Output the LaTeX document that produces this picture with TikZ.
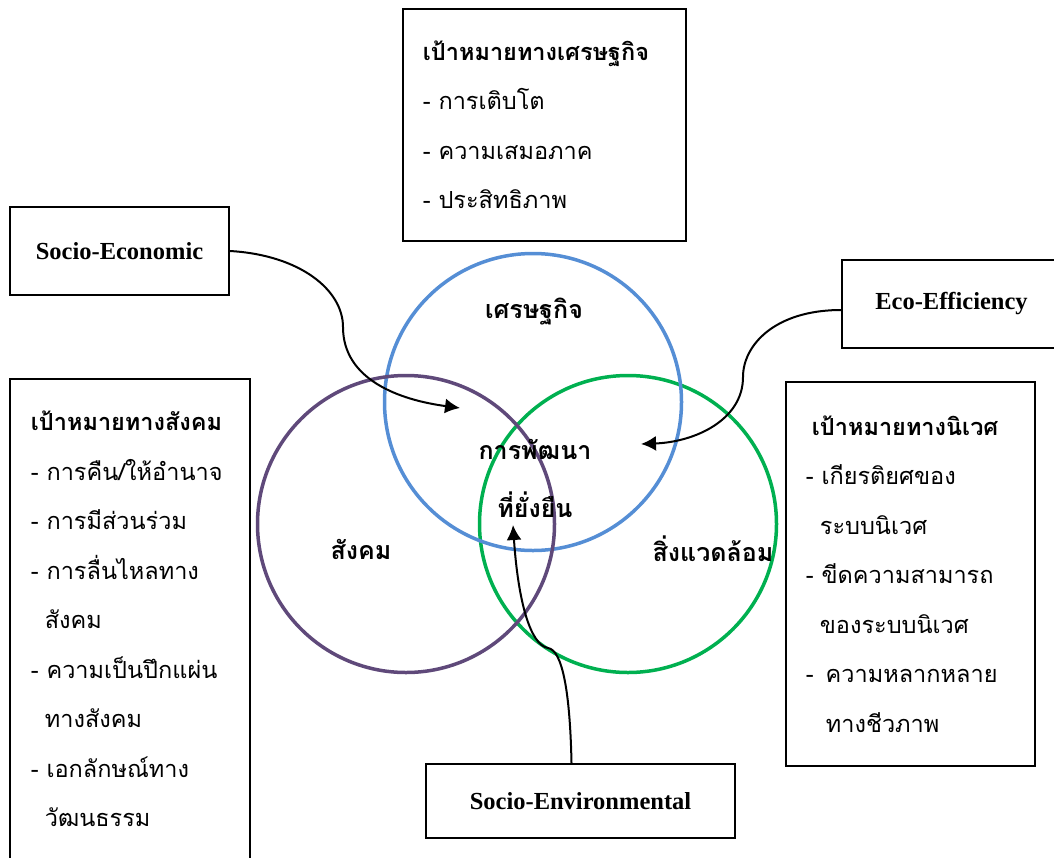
\documentclass[tikz,border=0pt]{standalone}
\usepackage{fontspec}
\setmainfont{Liberation Serif}
\newfontfamily\thaifont[Script=Thai]{Loma}
\usetikzlibrary{arrows.meta}
\definecolor{econblue}{HTML}{558ED5}
\definecolor{socpurple}{HTML}{5F497A}
\definecolor{envgreen}{HTML}{00B050}

\begin{document}
\begin{tikzpicture}[x=1pt,y=-1pt]
  \tikzstyle{pillar}=[circle,line width=3.5pt,minimum size=297pt]
  \tikzstyle{linkbox}=[draw,line width=1.8pt,minimum width=219pt,font=\bfseries\fontsize{24.5}{28}\selectfont]
  \tikzstyle{goalbox}=[draw,line width=1.8pt,align=left,inner xsep=20pt,font=\thaifont\fontsize{23.5}{49.5}\selectfont]
  \tikzstyle{pillar label}=[font=\thaifont\bfseries\fontsize{25}{58}\selectfont]
  \tikzstyle{link}=[line width=2pt,-{Latex[length=15pt,width=15pt]}]
  \useasboundingbox (0,0) rectangle (1054,857);
  \node[pillar,draw=envgreen] (env) at (628,524) {};
  \node[pillar,draw=econblue] (econ) at (533,402) {};
  \node[pillar,draw=socpurple] (social) at (406,524) {};
  \node[pillar label] (econlabel) at (534,312) {เศรษฐกิจ};
  \node[pillar label] (soclabel) at (361,549) {สังคม};
  \node[pillar label] (envlabel) at (713,549) {สิ่งแวดล้อม};
  \node[pillar label,align=center] (sustain) at (535,478) {การพัฒนา\\ที่ยั่งยืน};
  \node[goalbox,anchor=north west,text width=243pt,minimum height=232pt] (econgoal) at (402,8)
    {\textbf{เป้าหมายทางเศรษฐกิจ}\\- การเติบโต\\- ความเสมอภาค\\- ประสิทธิภาพ};
  \node[goalbox,anchor=north west,text width=198pt,minimum height=478pt,draw=none] (socgoal) at (10,379)
    {\textbf{เป้าหมายทางสังคม}\\- การคืน/ให้อำนาจ\\- การมีส่วนร่วม\\- การลื่นไหลทาง\\\hspace*{14pt}สังคม\\- ความเป็นปึกแผ่น\\\hspace*{14pt}ทางสังคม\\- เอกลักษณ์ทาง\\\hspace*{14pt}วัฒนธรรม};
  \draw[line width=1.8pt] (socgoal.south west) -- (socgoal.north west) -- (socgoal.north east) -- (socgoal.south east);
  \node[goalbox,anchor=north west,text width=209pt,minimum height=384pt] (ecogoal) at (785,381)
    {\hspace*{6pt}\textbf{เป้าหมายทางนิเวศ}\\- เกียรติยศของ\\\hspace*{14pt}ระบบนิเวศ\\- ขีดความสามารถ\\\hspace*{14pt}ของระบบนิเวศ\\-\hspace*{12pt}ความหลากหลาย\\\hspace*{20pt}ทางชีวภาพ};
  \node[linkbox,minimum height=88pt] (socioecon) at (119.5,251) {Socio-Economic};
  \node[linkbox,minimum height=88pt] (ecoeff) at (951.5,304) {Eco-Efficiency};
  \node[linkbox,minimum width=309pt,minimum height=74pt] (socioenv) at (580.5,801) {Socio-Environmental};
  \coordinate (econtip) at (460,408);
  \coordinate (ecotip) at (641,444);
  \coordinate (envtip) at (513,525);
  \draw[link] (socioecon.east) .. controls (300,255) and (343,290) .. (343,327)
    .. controls (343,380) and (400,400) .. (econtip);
  \draw[link] ([yshift=-6pt]ecoeff.west) .. controls (775,310) and (743,345) .. (743,377)
    .. controls (743,420) and (695,442) .. (ecotip);
  \draw[link] ([xshift=-9pt]socioenv.north) .. controls (570,690) and (562,650) .. (548,648)
    .. controls (530,645) and (518,600) .. (envtip);
\end{tikzpicture}
\end{document}
